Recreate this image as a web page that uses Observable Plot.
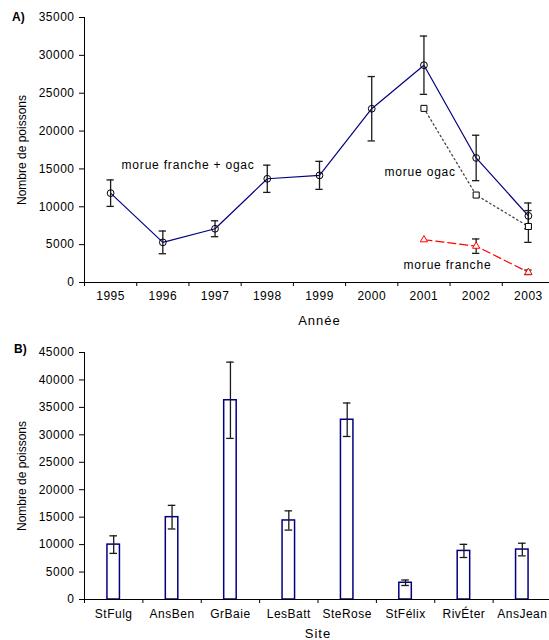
<!DOCTYPE html>
<html>
<head>
<meta charset="utf-8">
<script src="https://cdn.jsdelivr.net/npm/d3@7"></script>
<script src="https://cdn.jsdelivr.net/npm/@observablehq/plot@0.6"></script>
<style>
  html, body { margin: 0; padding: 0; background: white; }
  #wrap { position: relative; width: 549px; height: 640px; overflow: hidden; font-family: "Liberation Sans", Arial, sans-serif; }
  #wrap svg { display: block; }
  .panel { position: absolute; font-weight: bold; font-size: 12px; font-family: "Liberation Sans", Arial, sans-serif; }
  [aria-label$="tick label"] text { letter-spacing: 0.5px; }
  [aria-label="x-axis label"] text { font-size: 13px; letter-spacing: 1px; }
  [aria-label="text"] text { letter-spacing: 0.8px; }
</style>
</head>
<body>
<div id="wrap"></div>
<script>
// ---------- Data: panel A ----------
const years = [1995, 1996, 1997, 1998, 1999, 2000, 2001, 2002, 2003];
const totalMean = [11800, 5300, 7100, 13700, 14150, 22950, 28700, 16450, 8800];
const totalErr  = [1750, 1500, 1050, 1800, 1850, 4250, 3850, 3000, 1700];
const ogacYears = [2001, 2002, 2003];
const ogacMean  = [23000, 11550, 7400];
const ogacErr   = [0, 0, 2100];
const francheYears = [2001, 2002, 2003];
const francheMean  = [5650, 4800, 1350];
const francheErr   = [0, 950, 300];
const yTicksA = [0, 5000, 10000, 15000, 20000, 25000, 30000, 35000];
const annLabels = ["morue franche + ogac", "morue ogac", "morue franche"];
const annX = [0.71, 5.745, 6.11];
const annY = [15450, 14530, 2250];

// ---------- Data: panel B ----------
const sites = ["StFulg", "AnsBen", "GrBaie", "LesBatt", "SteRose", "StFélix", "RivÉter", "AnsJean"];
const siteMean = [10000, 15000, 36300, 14400, 32750, 3050, 8850, 9100];
const siteErr  = [1600, 2150, 6950, 1750, 3050, 500, 1200, 1150];
const yTicksB = [0, 5000, 10000, 15000, 20000, 25000, 30000, 35000, 40000, 45000];

// ---------- Build tables ----------
const idx = y => years.indexOf(y) + 0.5;
const total = years.map((y, i) => ({x: idx(y), v: totalMean[i], e: totalErr[i]}));
const ogac = ogacYears.map((y, i) => ({x: idx(y), v: ogacMean[i], e: ogacErr[i]}));
const franche = francheYears.map((y, i) => ({x: idx(y), v: francheMean[i], e: francheErr[i]}));
const ann = annLabels.map((t, i) => ({x: annX[i], y: annY[i], t}));
const bars = sites.map((s, i) => ({x: i + 0.5, v: siteMean[i], e: siteErr[i]}));

const font = "'Liberation Sans', Arial, sans-serif";
const errColor = "#1a1a1a";
const cap = 0.07;

function errMarks(data, capW) {
  const d = data.filter(r => r.e > 0);
  return [
    Plot.ruleX(d, {x: "x", y1: r => r.v - r.e, y2: r => r.v + r.e, stroke: errColor, strokeWidth: 1.3}),
    Plot.ruleY(d, {y: r => r.v - r.e, x1: r => r.x - capW, x2: r => r.x + capW, stroke: errColor, strokeWidth: 1.3}),
    Plot.ruleY(d, {y: r => r.v + r.e, x1: r => r.x - capW, x2: r => r.x + capW, stroke: errColor, strokeWidth: 1.3})
  ];
}

const chartA = Plot.plot({
  width: 549, height: 335,
  marginTop: 17, marginBottom: 53, marginLeft: 84, marginRight: -5,
  style: {fontFamily: font, fontSize: "12px", color: "#000", background: "white", overflow: "visible"},
  x: {domain: [0, years.length], axis: null},
  y: {domain: [0, 35000], axis: null},
  marks: [
    Plot.axisY({ticks: yTicksA, tickSize: 5, tickPadding: 5, tickFormat: d => String(d),
      label: "Nombre de poissons", labelAnchor: "center", labelOffset: 67, labelArrow: "none"}),
    Plot.axisX({ticks: d3.range(0, years.length + 1), tickSize: 4, tickFormat: () => "", label: null}),
    Plot.axisX({ticks: years.map((_, i) => i + 0.5), tickSize: 0, tickPadding: 9,
      tickFormat: d => String(years[Math.floor(d)]),
      label: "Année", labelAnchor: "center", labelOffset: 42, labelArrow: "none"}),
    Plot.ruleX([0], {stroke: "#000"}),
    Plot.ruleY([0], {stroke: "#000"}),
    Plot.line(total, {x: "x", y: "v", stroke: "#000080", strokeWidth: 1.2}),
    Plot.line(ogac, {x: "x", y: "v", stroke: "#444", strokeWidth: 1.3, strokeDasharray: "1.5,3"}),
    Plot.line(franche, {x: "x", y: "v", stroke: "#ff0000", strokeWidth: 1.2, strokeDasharray: "8,4"}),
    ...errMarks(total, cap),
    ...errMarks(ogac, cap),
    ...errMarks(franche, cap),
    Plot.dot(total, {x: "x", y: "v", r: 3.4, stroke: "#000", fill: "none", strokeWidth: 1}),
    Plot.dot(ogac, {x: "x", y: "v", r: 3.4, symbol: "square", stroke: "#000", fill: "white", strokeWidth: 1}),
    Plot.dot(franche, {x: "x", y: "v", r: 2.7, symbol: "triangle", stroke: "#ff0000", fill: "white", strokeWidth: 1}),
    Plot.text(ann, {x: "x", y: "y", text: "t", textAnchor: "start", fontSize: 12, fill: "#000"})
  ]
});

const chartB = Plot.plot({
  width: 549, height: 305,
  marginTop: 17, marginBottom: 41, marginLeft: 84, marginRight: -2,
  style: {fontFamily: font, fontSize: "12px", color: "#000", background: "white", overflow: "visible"},
  x: {domain: [0, sites.length], axis: null},
  y: {domain: [0, 45000], axis: null},
  marks: [
    Plot.axisY({ticks: yTicksB, tickSize: 5, tickPadding: 5, tickFormat: d => String(d),
      label: "Nombre de poissons", labelAnchor: "center", labelOffset: 67, labelArrow: "none"}),
    Plot.axisX({ticks: d3.range(0, sites.length + 1), tickSize: 4, tickFormat: () => "", label: null}),
    Plot.axisX({ticks: sites.map((_, i) => i + 0.5), tickSize: 0, tickPadding: 10,
      tickFormat: d => sites[Math.floor(d)],
      label: "Site", labelAnchor: "center", labelOffset: 38, labelArrow: "none"}),
    Plot.rectY(bars, {x1: r => r.x - 0.107, x2: r => r.x + 0.107, y1: 0, y2: "v",
      fill: "white", stroke: "#000080", strokeWidth: 1.5}),
    Plot.ruleX([0], {stroke: "#000"}),
    Plot.ruleY([0], {stroke: "#000"}),
    ...errMarks(bars, 0.065)
  ]
});

const wrap = document.getElementById("wrap");
wrap.appendChild(chartA);
wrap.appendChild(chartB);
const la = document.createElement("div");
la.className = "panel"; la.textContent = "A)";
la.style.left = "12px"; la.style.top = "10px";
wrap.appendChild(la);
const lb = document.createElement("div");
lb.className = "panel"; lb.textContent = "B)";
lb.style.left = "14px"; lb.style.top = "342px";
wrap.appendChild(lb);
</script>
</body>
</html>
